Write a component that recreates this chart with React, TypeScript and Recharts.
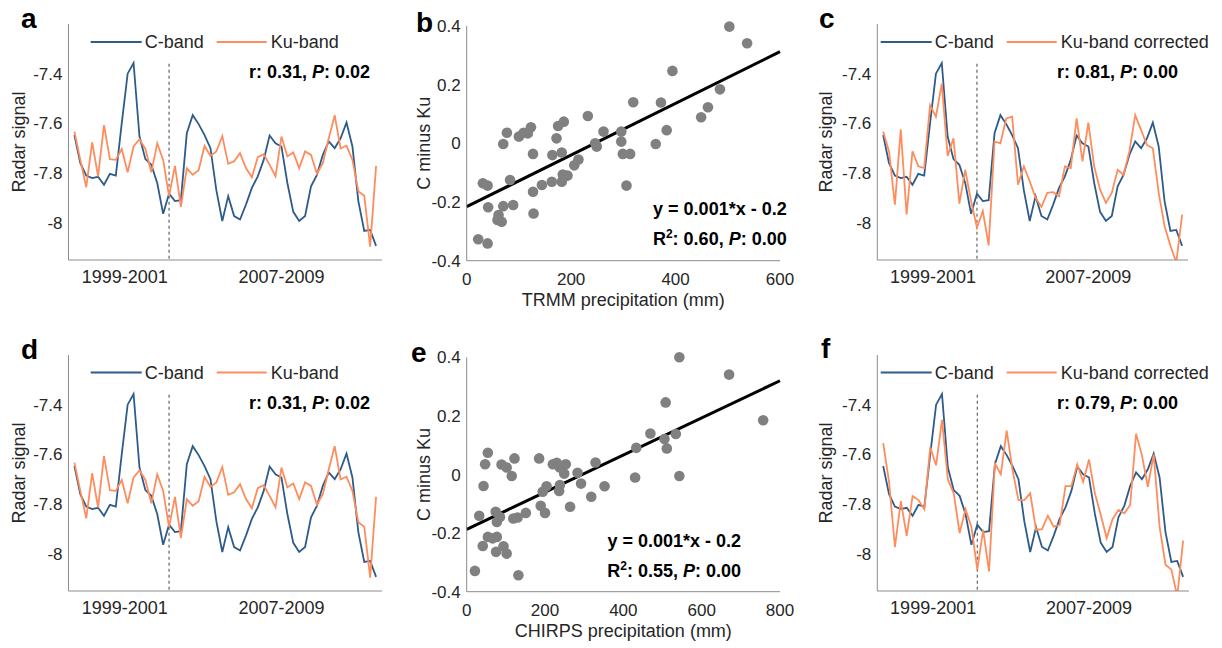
import React from "react";
import {
  LineChart,
  Line,
  ScatterChart,
  Scatter,
  XAxis,
  YAxis,
  ReferenceLine,
} from "recharts";

const FONT = "Arial, 'Liberation Sans', Helvetica, sans-serif";
const C_COLOR = "#2d5b8a";
const KU_COLOR = "#ff8c5c";
const AXIS = "#8c8c8c";
const TEXT = "#262626";
const DOT = "#808080";

// time series (52 samples, two periods)
const C_BAND = [
  -7.647, -7.76, -7.81, -7.82, -7.815, -7.847, -7.803, -7.81, -7.6, -7.4,
  -7.357, -7.653, -7.744, -7.767, -7.84, -7.964, -7.883, -7.913, -7.909, -7.64,
  -7.567, -7.603, -7.647, -7.7, -7.87, -7.993, -7.893, -7.973, -7.987, -7.927,
  -7.86, -7.813, -7.747, -7.649, -7.68, -7.693, -7.84, -7.956, -7.993, -7.973,
  -7.853, -7.807, -7.727, -7.673, -7.7, -7.66, -7.597, -7.693, -7.913, -8.033,
  -8.029, -8.093,
];
const KU_BAND = [
  -7.633, -7.747, -7.857, -7.676, -7.813, -7.607, -7.744, -7.747, -7.703, -7.797,
  -7.693, -7.664, -7.703, -7.797, -7.68, -7.747, -7.893, -7.771, -7.936, -7.781,
  -7.807, -7.789, -7.691, -7.731, -7.713, -7.651, -7.763, -7.753, -7.72, -7.78,
  -7.817, -7.736, -7.724, -7.767, -7.813, -7.653, -7.733, -7.717, -7.78, -7.713,
  -7.727, -7.803, -7.76, -7.66, -7.567, -7.701, -7.69, -7.747, -7.873, -7.891,
  -8.096, -7.771,
];
const KU_CORR_TRMM = [
  -7.633, -7.713, -7.927, -7.624, -7.967, -7.713, -7.773, -7.78, -7.527, -7.573,
  -7.44, -7.731, -7.66, -7.923, -7.787, -7.913, -8.02, -7.953, -8.091, -7.673,
  -7.68, -7.58, -7.573, -7.847, -7.773, -7.833, -7.9, -7.936, -7.88, -7.877,
  -7.893, -7.773, -7.78, -7.58, -7.753, -7.597, -7.773, -7.867, -7.92, -7.88,
  -7.787, -7.807, -7.713, -7.567, -7.627, -7.687, -7.7, -7.88, -8.013, -8.093,
  -8.16, -7.967,
];
const KU_CORR_CHIRPS = [
  -7.555, -7.711, -7.973, -7.788, -7.928, -7.768, -7.784, -7.821, -7.571, -7.644,
  -7.461, -7.701, -7.757, -7.917, -7.821, -7.891, -8.064, -7.904, -8.071, -7.637,
  -7.68, -7.504, -7.664, -7.784, -7.784, -7.757, -7.904, -7.901, -7.847, -7.891,
  -7.884, -7.728, -7.728, -7.64, -7.711, -7.621, -7.757, -7.844, -7.937, -7.861,
  -7.824, -7.837, -7.804, -7.517, -7.604, -7.731, -7.6, -7.891, -8.044, -8.064,
  -8.171, -7.947,
];
const BREAK_INDEX = 16;
const PERIOD_TICKS = [8.5, 35];
const PERIOD_LABELS = ["1999-2001", "2007-2009"];
const SIGNAL_TICKS = [-8, -7.8, -7.6, -7.4];

// scatter: precipitation vs C minus Ku
const TRMM_X = [
  503, 537, 394, 485, 462, 449, 372, 319, 232, 186, 175, 172, 123, 100, 109, 117,
  77, 70, 127, 164, 182, 214, 206, 246, 249, 262, 296, 296, 299, 313, 306, 362,
  383, 163, 182, 184, 193, 144, 127, 83, 128, 89, 70, 61, 59, 67, 41, 31, 40, 22,
  40,
];
const TRMM_Y = [
  0.398, 0.341, 0.247, 0.184, 0.123, 0.089, 0.139, 0.14, 0.093, 0.074, 0.059,
  0.017, 0.055, 0.023, 0.036, 0.034, 0.036, -0.002, -0.036, -0.04, -0.031, -0.055,
  -0.075, 0.0, -0.011, 0.04, 0.04, 0.006, -0.036, -0.036, -0.144, -0.002, 0.045,
  -0.131, -0.131, -0.106, -0.11, -0.142, -0.165, -0.125, -0.239, -0.21, -0.214,
  -0.244, -0.261, -0.267, -0.218, -0.136, -0.144, -0.327, -0.341,
];
const CHIRPS_X = [
  543, 670, 508, 757, 469, 534, 505, 511, 433, 430, 543, 329, 352, 318, 292, 283,
  264, 253, 249, 238, 230, 220, 238, 236, 204, 194, 185, 189, 200, 151, 130, 119,
  122, 115, 102, 89, 54, 47, 43, 32, 74, 77, 85, 54, 77, 66, 41, 94, 75, 102, 21,
  132,
];
const CHIRPS_Y = [
  0.4, 0.341, 0.246, 0.185, 0.14, 0.138, 0.121, 0.089, 0.091, -0.01, -0.005, 0.041,
  -0.04, -0.076, -0.031, 0.006, -0.11, 0.035, 0.003, 0.024, 0.04, 0.035, -0.036,
  -0.056, -0.04, -0.059, 0.055, -0.107, -0.131, -0.131, -0.147, -0.15, 0.055,
  -0.005, 0.024, 0.034, 0.074, 0.035, -0.039, -0.141, -0.127, -0.162, -0.145,
  -0.213, -0.213, -0.218, -0.244, -0.245, -0.264, -0.27, -0.329, -0.344,
];
const DIFF_TICKS = [-0.4, -0.2, 0, 0.2, 0.4];
const TRMM_TICKS = [0, 200, 400, 600];
const CHIRPS_TICKS = [0, 200, 400, 600, 800];
// fitted line end points (x, y)
const TRMM_FIT = [
  { x: 0, y: -0.216 },
  { x: 600, y: 0.3125 },
];
const CHIRPS_FIT = [
  { x: 0, y: -0.187 },
  { x: 800, y: 0.32 },
];

const tickStyle = { fill: TEXT, fontSize: 17, fontFamily: FONT };
const labelStyle = { textAnchor: "middle" as const, fill: TEXT, fontSize: 18, fontFamily: FONT };

function TimePanel({
  left,
  top,
  width,
  yAxisWidth,
  labelOffset,
  ku,
}: {
  left: number;
  top: number;
  width: number;
  yAxisWidth: number;
  labelOffset: number;
  ku: number[];
}) {
  const data = C_BAND.map((c, i) => ({ i, c, k: ku[i] }));
  return (
    <div style={{ position: "absolute", left, top }}>
      <LineChart
        width={width}
        height={300}
        data={data}
        margin={{ top: 24, right: 18, bottom: 10, left: 0 }}
      >
        <XAxis
          dataKey="i"
          type="number"
          domain={[-1, 52]}
          ticks={PERIOD_TICKS}
          tickFormatter={(v: number) => PERIOD_LABELS[PERIOD_TICKS.indexOf(v)]}
          tick={{ ...tickStyle, fontSize: 18 }}
          tickLine={false}
          tickSize={8}
          tickMargin={2}
          axisLine={{ stroke: AXIS }}
          height={30}
        />
        <YAxis
          type="number"
          domain={[-8.15, -7.2]}
          allowDataOverflow
          ticks={SIGNAL_TICKS}
          tick={tickStyle}
          tickLine={false}
          tickSize={4}
          tickMargin={2}
          axisLine={{ stroke: AXIS }}
          width={yAxisWidth}
          label={{
            value: "Radar signal",
            angle: -90,
            position: "insideLeft",
            offset: labelOffset,
            style: labelStyle,
          }}
        />
        <ReferenceLine
          segment={[
            { x: BREAK_INDEX, y: -7.36 },
            { x: BREAK_INDEX, y: -8.15 },
          ]}
          stroke="#444"
          strokeDasharray="3 3"
        />
        <Line
          type="linear"
          dataKey="c"
          stroke={C_COLOR}
          strokeWidth={1.8}
          dot={false}
          isAnimationActive={false}
        />
        <Line
          type="linear"
          dataKey="k"
          stroke={KU_COLOR}
          strokeWidth={1.8}
          dot={false}
          isAnimationActive={false}
        />
      </LineChart>
    </div>
  );
}

function GrayDot(props: { cx?: number; cy?: number }) {
  return <circle cx={props.cx} cy={props.cy} r={5.3} fill={DOT} />;
}

function ScatterPanel({
  top,
  height,
  marginTop,
  marginBottom,
  xs,
  ys,
  xMax,
  xTicks,
  xLabel,
  fit,
}: {
  top: number;
  height: number;
  marginTop: number;
  marginBottom: number;
  xs: number[];
  ys: number[];
  xMax: number;
  xTicks: number[];
  xLabel: string;
  fit: { x: number; y: number }[];
}) {
  const pts = xs.map((x, i) => ({ x, y: ys[i] }));
  return (
    <div style={{ position: "absolute", left: 400, top }}>
      <ScatterChart
        width={420}
        height={height}
        margin={{ top: marginTop, right: 40, bottom: marginBottom, left: 0 }}
      >
        <XAxis
          dataKey="x"
          type="number"
          domain={[0, xMax]}
          ticks={xTicks}
          tick={tickStyle}
          tickLine={false}
          tickSize={10}
          tickMargin={2}
          axisLine={{ stroke: AXIS }}
          height={50}
          label={{
            value: xLabel,
            position: "insideBottom",
            offset: 5,
            style: labelStyle,
          }}
        />
        <YAxis
          dataKey="y"
          type="number"
          domain={[-0.4, 0.4]}
          ticks={DIFF_TICKS}
          tick={tickStyle}
          tickLine={false}
          tickSize={4}
          tickMargin={2}
          axisLine={{ stroke: AXIS }}
          width={66.7}
          label={{
            value: "C minus Ku",
            angle: -90,
            position: "insideLeft",
            offset: 24,
            style: labelStyle,
          }}
        />
        <Scatter data={pts} fill={DOT} shape={<GrayDot />} isAnimationActive={false} />
        <ReferenceLine segment={fit} stroke="#000" strokeWidth={3} ifOverflow="visible" />
      </ScatterChart>
    </div>
  );
}

function LegendRow({ x, y, ku }: { x: number; y: number; ku: string }) {
  const kuStart = ku === "Ku-band" ? x + 126 : x + 126;
  return (
    <g fontFamily={FONT} fontSize={18} fill={TEXT}>
      <line x1={x} y1={y} x2={x + 51} y2={y} stroke={C_COLOR} strokeWidth={1.8} />
      <text x={x + 54} y={y + 6}>C-band</text>
      <line x1={kuStart} y1={y} x2={kuStart + 50} y2={y} stroke={KU_COLOR} strokeWidth={1.8} />
      <text x={kuStart + 54} y={y + 6}>{ku}</text>
    </g>
  );
}

function Stat({ x, y, r, p }: { x: number; y: number; r: string; p: string }) {
  return (
    <text x={x} y={y} textAnchor="end" fontFamily={FONT} fontSize={18} fontWeight="bold" fill="#000">
      {`r: ${r}, `}
      <tspan fontStyle="italic">P</tspan>
      {`: ${p}`}
    </text>
  );
}

function Fit({ x, y, r2 }: { x: number; y: number; r2: string }) {
  return (
    <g fontFamily={FONT} fontSize={18} fontWeight="bold" fill="#000">
      <text x={x} y={y} textAnchor="end">
        y = 0.001*x - 0.2
      </text>
      <text x={x} y={y + 30} textAnchor="end">
        R<tspan dy={-7} fontSize={12}>2</tspan>
        <tspan dy={7}>{`: ${r2}, `}</tspan>
        <tspan fontStyle="italic">P</tspan>
        {": 0.00"}
      </text>
    </g>
  );
}

export default function App() {
  const letter = { fontFamily: FONT, fontSize: 28, fontWeight: "bold" as const, fill: "#000" };
  return (
    <div
      style={{
        position: "absolute",
        left: 0,
        top: 0,
        width: 1222,
        height: 648,
        background: "#fff",
        overflow: "hidden",
      }}
    >
      <TimePanel left={0} top={0} width={400} yAxisWidth={68.5} labelOffset={19} ku={KU_BAND} />
      <TimePanel left={0} top={331} width={400} yAxisWidth={68.5} labelOffset={19} ku={KU_BAND} />
      <TimePanel left={800} top={0} width={406} yAxisWidth={77.3} labelOffset={26} ku={KU_CORR_TRMM} />
      <TimePanel left={800} top={331} width={407} yAxisWidth={77.3} labelOffset={26} ku={KU_CORR_CHIRPS} />
      <ScatterPanel
        top={0}
        height={330}
        marginTop={26}
        marginBottom={19.3}
        xs={TRMM_X}
        ys={TRMM_Y}
        xMax={600}
        xTicks={TRMM_TICKS}
        xLabel="TRMM precipitation (mm)"
        fit={TRMM_FIT}
      />
      <ScatterPanel
        top={330}
        height={318}
        marginTop={27.3}
        marginBottom={6.3}
        xs={CHIRPS_X}
        ys={CHIRPS_Y}
        xMax={800}
        xTicks={CHIRPS_TICKS}
        xLabel="CHIRPS precipitation (mm)"
        fit={CHIRPS_FIT}
      />
      <svg
        width={1222}
        height={648}
        style={{ position: "absolute", left: 0, top: 0, pointerEvents: "none" }}
      >
        <text x={21} y={28} {...letter}>a</text>
        <text x={416} y={32} {...letter}>b</text>
        <text x={819} y={28} {...letter}>c</text>
        <text x={21} y={359} {...letter}>d</text>
        <text x={411} y={362} {...letter}>e</text>
        <text x={821} y={358} {...letter}>f</text>

        <LegendRow x={90.7} y={42} ku="Ku-band" />
        <LegendRow x={90.7} y={372.5} ku="Ku-band" />
        <LegendRow x={880.7} y={42} ku="Ku-band corrected" />
        <LegendRow x={880.7} y={372.5} ku="Ku-band corrected" />

        <Stat x={370} y={78} r="0.31" p="0.02" />
        <Stat x={370} y={409} r="0.31" p="0.02" />
        <Stat x={1178} y={78} r="0.81" p="0.00" />
        <Stat x={1178} y={409} r="0.79" p="0.00" />

        <Fit x={786.7} y={215} r2="0.60" />
        <Fit x={741} y={546.7} r2="0.55" />
      </svg>
    </div>
  );
}
